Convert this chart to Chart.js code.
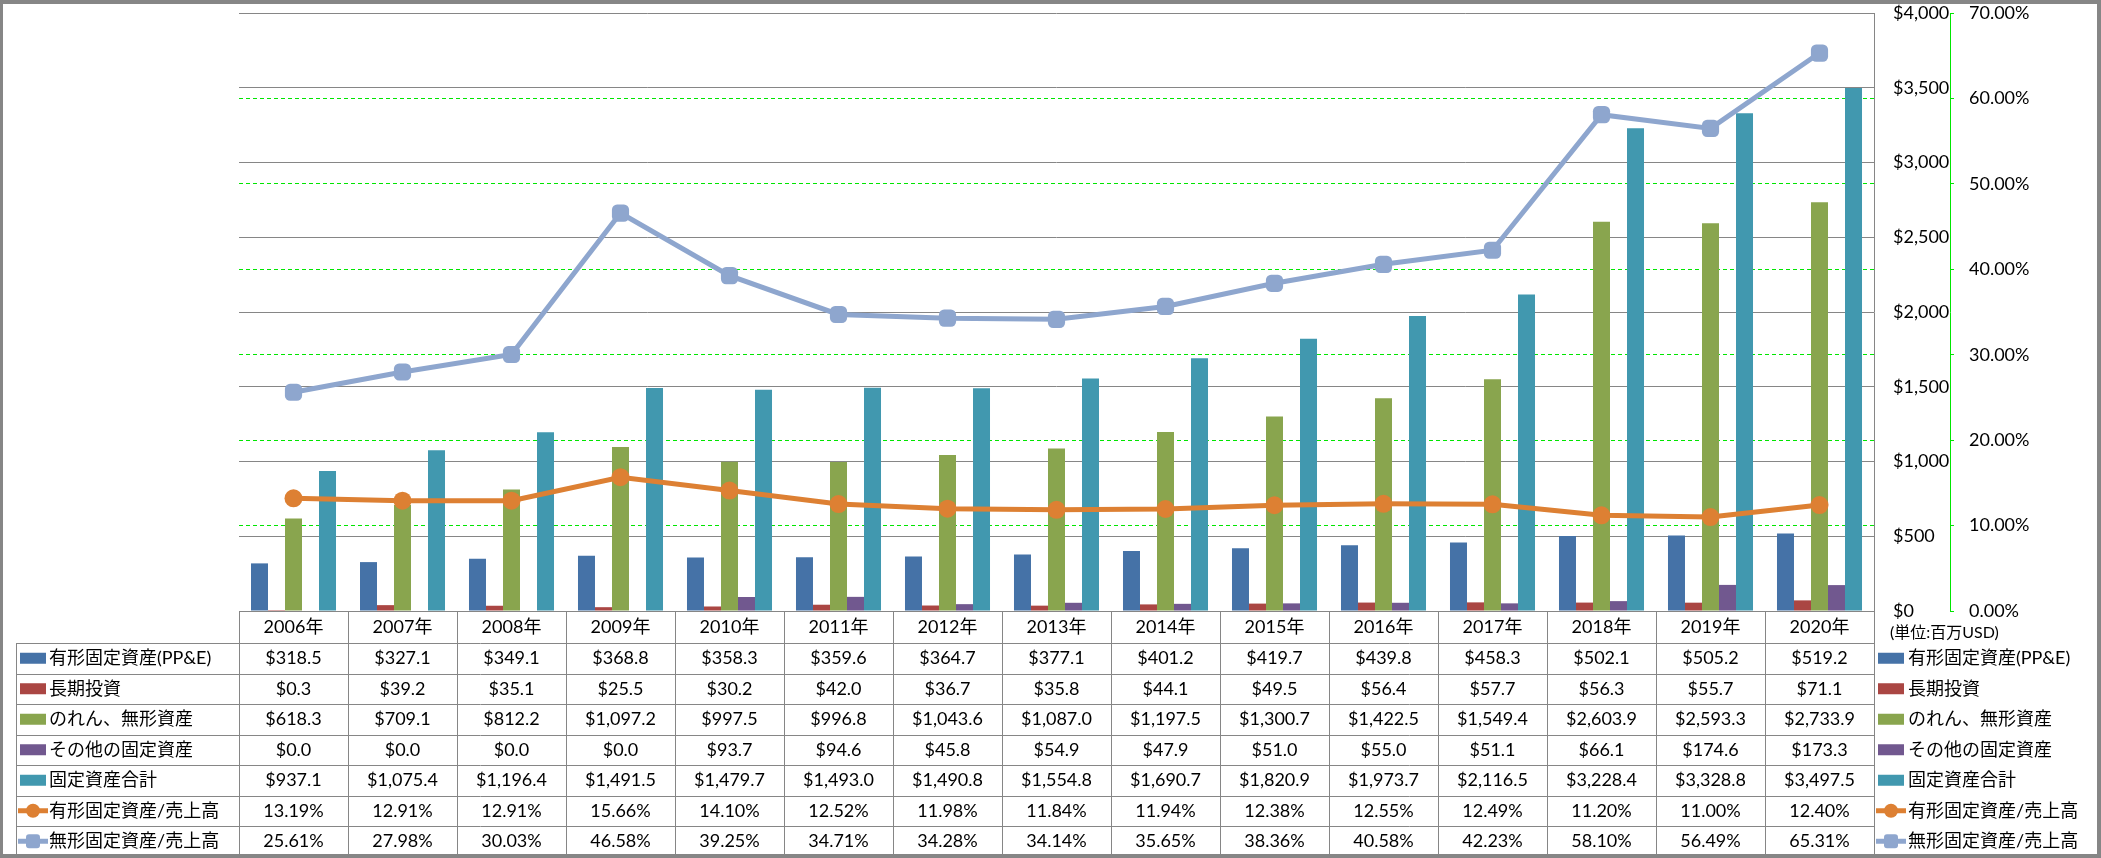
<!DOCTYPE html>
<html>
<head>
<meta charset="utf-8">
<script src="https://cdn.jsdelivr.net/npm/chart.js@4.4.0/dist/chart.umd.min.js"></script>
<style>
  html, body { margin: 0; padding: 0; background: #fff; }
  #wrap { width: 2101px; height: 858px; }
</style>
</head>
<body>
<div id="wrap"><canvas id="myChart" width="2101" height="858"></canvas></div>
<script>
const years = ['2006年', '2007年', '2008年', '2009年', '2010年', '2011年', '2012年', '2013年',
  '2014年', '2015年', '2016年', '2017年', '2018年', '2019年', '2020年'];

// 単位: 百万USD
const ppe = [318.5, 327.1, 349.1, 368.8, 358.3, 359.6, 364.7, 377.1, 401.2, 419.7, 439.8, 458.3, 502.1, 505.2, 519.2];
const longInvest = [0.3, 39.2, 35.1, 25.5, 30.2, 42.0, 36.7, 35.8, 44.1, 49.5, 56.4, 57.7, 56.3, 55.7, 71.1];
const goodwill = [618.3, 709.1, 812.2, 1097.2, 997.5, 996.8, 1043.6, 1087.0, 1197.5, 1300.7, 1422.5, 1549.4, 2603.9, 2593.3, 2733.9];
const otherFixed = [0.0, 0.0, 0.0, 0.0, 93.7, 94.6, 45.8, 54.9, 47.9, 51.0, 55.0, 51.1, 66.1, 174.6, 173.3];
const totalFixed = [937.1, 1075.4, 1196.4, 1491.5, 1479.7, 1493.0, 1490.8, 1554.8, 1690.7, 1820.9, 1973.7, 2116.5, 3228.4, 3328.8, 3497.5];
// %
const ppeRatio = [13.19, 12.91, 12.91, 15.66, 14.10, 12.52, 11.98, 11.84, 11.94, 12.38, 12.55, 12.49, 11.20, 11.00, 12.40];
const intangRatio = [25.61, 27.98, 30.03, 46.58, 39.25, 34.71, 34.28, 34.14, 35.65, 38.36, 40.58, 42.23, 58.10, 56.49, 65.31];

const dollarTicks = [0, 500, 1000, 1500, 2000, 2500, 3000, 3500, 4000];
const pctTicks = [0, 10, 20, 30, 40, 50, 60, 70];

const names = ['有形固定資産(PP&E)', '長期投資', 'のれん、無形資産', 'その他の固定資産', '固定資産合計',
  '有形固定資産/売上高', '無形固定資産/売上高'];
const unitLabel = '(単位:百万USD)';

const FONT = 'Lato, "Noto Sans CJK JP", sans-serif';
const GRID = '#868686';
const GREEN = '#00E600';
const colors = ['#4572A7', '#AA4643', '#89A54E', '#71588F', '#4198AF', '#DD8033', '#8EA6CE'];

Chart.defaults.font.family = FONT;
Chart.defaults.color = '#000';

const money = v => '$' + v.toLocaleString('en-US', { minimumFractionDigits: 1, maximumFractionDigits: 1 });
const pct = v => v.toFixed(2) + '%';

const rows = [
  { vals: ppe, fmt: money, kind: 'bar' },
  { vals: longInvest, fmt: money, kind: 'bar' },
  { vals: goodwill, fmt: money, kind: 'bar' },
  { vals: otherFixed, fmt: money, kind: 'bar' },
  { vals: totalFixed, fmt: money, kind: 'bar' },
  { vals: ppeRatio, fmt: pct, kind: 'circle' },
  { vals: intangRatio, fmt: pct, kind: 'square' }
];

function drawKey(ctx, kind, color, x, y) {
  if (kind === 'bar') {
    ctx.fillStyle = color;
    ctx.fillRect(x, y - 5.5, 26, 11);
    return;
  }
  ctx.strokeStyle = color;
  ctx.lineWidth = 5;
  ctx.beginPath();
  ctx.moveTo(x - 2, y);
  ctx.lineTo(x + 28, y);
  ctx.stroke();
  ctx.fillStyle = color;
  ctx.beginPath();
  if (kind === 'circle') {
    ctx.arc(x + 13, y, 7, 0, Math.PI * 2);
  } else {
    ctx.roundRect(x + 6, y - 7, 14, 14, 3);
  }
  ctx.fill();
}

const tablePlugin = {
  id: 'dataTable',
  afterDraw(chart) {
    const ctx = chart.ctx;
    const area = chart.chartArea;
    const n = years.length;
    const colW = (area.right - area.left) / n;
    const headTop = area.bottom;
    const headBot = 643;
    const rowH = 30.5;
    const tableLeft = 16;
    const px = v => Math.round(v) + 0.5;

    ctx.save();
    ctx.strokeStyle = GRID;
    ctx.lineWidth = 1;
    ctx.beginPath();
    // horizontal lines
    ctx.moveTo(area.left, px(headTop)); ctx.lineTo(area.right, px(headTop));
    for (let r = 0; r <= rows.length; r++) {
      const y = px(headBot + r * rowH);
      ctx.moveTo(tableLeft, y); ctx.lineTo(area.right, y);
    }
    // vertical lines
    const bottom = px(headBot + rows.length * rowH);
    for (let c = 0; c <= n; c++) {
      const x = px(area.left + c * colW);
      ctx.moveTo(x, px(headTop)); ctx.lineTo(x, bottom);
    }
    ctx.moveTo(px(tableLeft), px(headBot)); ctx.lineTo(px(tableLeft), bottom);
    ctx.stroke();

    // cell values + keys
    ctx.font = '18px ' + FONT;
    ctx.textBaseline = 'middle';
    rows.forEach((row, r) => {
      const yc = headBot + r * rowH + rowH / 2;
      ctx.textAlign = 'center';
      ctx.fillStyle = '#000';
      row.vals.forEach((v, i) => {
        ctx.fillText(row.fmt(v), area.left + (i + 0.5) * colW, yc);
      });
      // left labels
      drawKey(ctx, row.kind, colors[r], 20, yc);
      ctx.textAlign = 'left';
      ctx.fillStyle = '#000';
      ctx.fillText(names[r], 49, yc);
      // right legend
      drawKey(ctx, row.kind, colors[r], 1878, yc);
      ctx.fillStyle = '#000';
      ctx.fillText(names[r], 1908, yc);
    });

    ctx.font = '16px ' + FONT;
    ctx.textAlign = 'left';
    ctx.fillText(unitLabel, 1890, 633);

    // outer border
    ctx.strokeStyle = GRID;
    ctx.strokeRect(0.5, 1.5, chart.width - 2, chart.height - 3);
    ctx.restore();
  }
};

const barSet = (i, data) => ({
  type: 'bar',
  label: names[i],
  data: data,
  backgroundColor: colors[i],
  borderWidth: 0,
  yAxisID: 'y',
  order: 2,
  categoryPercentage: 0.78,
  barPercentage: 1.0
});

const lineSet = (i, data, style, radius) => ({
  type: 'line',
  label: names[i],
  data: data,
  borderColor: colors[i],
  backgroundColor: colors[i],
  borderWidth: 5,
  pointStyle: style,
  pointRadius: radius,
  pointBorderWidth: 0,
  tension: 0,
  clip: false,
  yAxisID: 'y1',
  order: 1
});

// keep the plot area exactly where the layout padding puts it
const noPad = s => { s.paddingTop = 0; s.paddingBottom = 0; };

const ctx = document.getElementById('myChart').getContext('2d');
new Chart(ctx, {
  type: 'bar',
  data: {
    labels: years,
    datasets: [
      lineSet(5, ppeRatio, 'circle', 9),
      lineSet(6, intangRatio, 'rectRounded', 10),
      barSet(0, ppe),
      barSet(1, longInvest),
      barSet(2, goodwill),
      barSet(3, otherFixed),
      barSet(4, totalFixed)
    ]
  },
  options: {
    responsive: false,
    animation: false,
    devicePixelRatio: 1,
    layout: { autoPadding: false, padding: { left: 239, top: 13, right: 0, bottom: 215 } },
    plugins: {
      legend: { display: false },
      tooltip: { enabled: false }
    },
    scales: {
      x: {
        position: 'bottom',
        grid: { display: false, drawTicks: false },
        border: { display: true, color: GRID },
        ticks: { font: { size: 18 }, padding: 5, maxRotation: 0 },
        afterFit: s => { s.height = 32; s.paddingLeft = 0; s.paddingRight = 0; }
      },
      y: {
        position: 'right',
        min: 0,
        max: 4000,
        afterBuildTicks: s => { s.ticks = dollarTicks.map(v => ({ value: v })); },
        grid: { color: GRID, lineWidth: 1, drawTicks: false },
        border: { display: true, color: GRID },
        ticks: {
          font: { size: 18 },
          padding: 19,
          callback: v => '$' + v.toLocaleString('en-US')
        },
        afterFit: s => { s.width = 76; noPad(s); }
      },
      y1: {
        position: 'right',
        min: 0,
        max: 70,
        afterBuildTicks: s => { s.ticks = pctTicks.map(v => ({ value: v })); },
        grid: {
          color: c => (c.tick && (c.tick.value === 0 || c.tick.value === 70)) ? 'rgba(0,0,0,0)' : GREEN,
          tickColor: GREEN,
          lineWidth: 1,
          tickLength: 4,
          tickBorderDash: [4, 3]
        },
        border: { display: true, color: GREEN, dash: [4, 3] },
        ticks: {
          font: { size: 18 },
          padding: 15,
          callback: v => v.toFixed(2) + '%'
        },
        afterFit: s => { s.width = 151; noPad(s); }
      }
    }
  },
  plugins: [tablePlugin]
});
</script>
</body>
</html>
